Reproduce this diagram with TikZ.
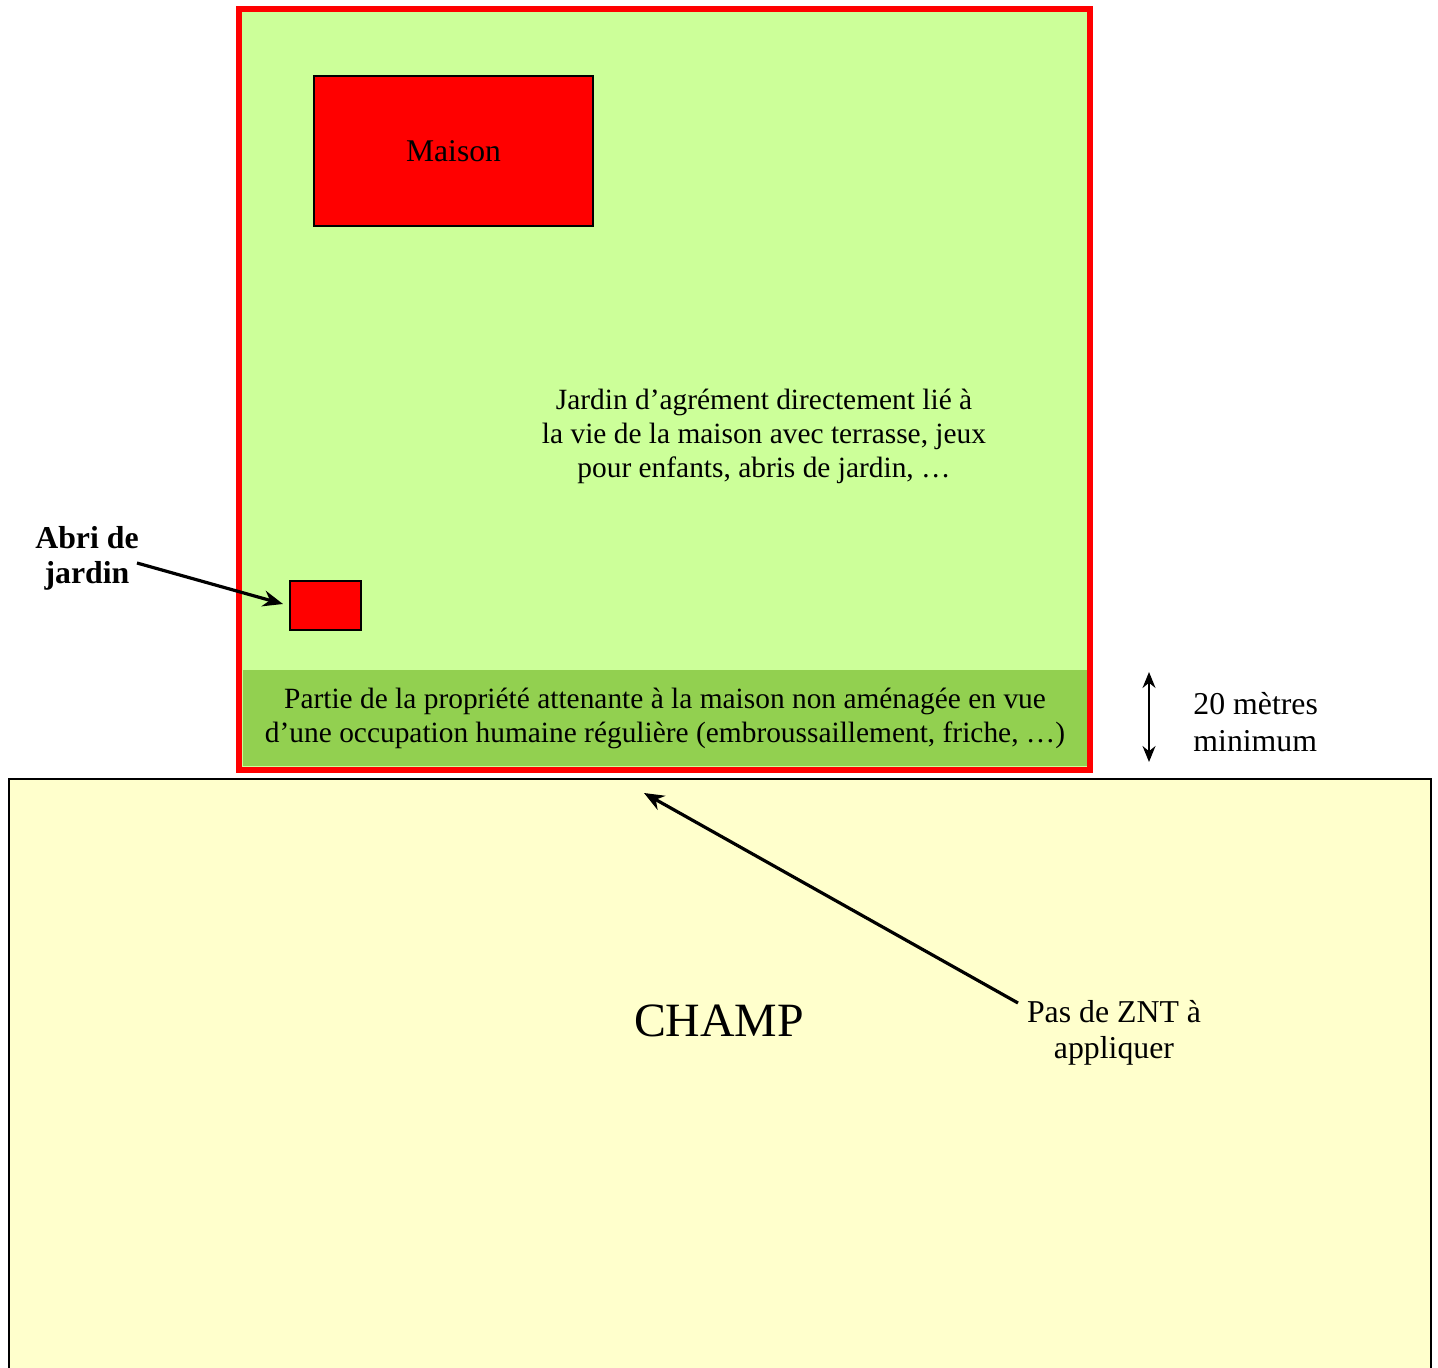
\documentclass[tikz,border=0pt]{standalone}
\usepackage{fontspec}
\setmainfont{Liberation Serif}
\usetikzlibrary{arrows.meta}
\definecolor{lightgreen}{HTML}{CCFF99}
\definecolor{darkgreen}{HTML}{92D050}
\definecolor{champ}{HTML}{FFFFCC}
\definecolor{redx}{HTML}{FF0000}
\tikzset{
  px/.style={x=0.5pt,y=-0.5pt},
  body/.style={font=\fontsize{14.7}{17}\selectfont, align=center, inner sep=0pt},
  big/.style={font=\fontsize{15.9}{18}\selectfont, align=center, inner sep=0pt},
  bldg/.style={fill=redx, draw=black, line width=1pt},
  ptr/.style={line width=1.6pt, -{Stealth[length=10pt,width=8pt]}},
  dim/.style={line width=0.8pt, {Stealth[length=8pt,width=6.5pt]}-{Stealth[length=8pt,width=6.5pt]}}
}
\begin{document}
\begin{tikzpicture}[px]
\useasboundingbox (0,0) rectangle (1438,1368);
\clip (0,0) rectangle (1438,1368);
% champ
\draw[fill=champ, draw=black, line width=1pt] (9,779) rectangle (1431,1400);
\node[font=\fontsize{23.9}{28}\selectfont, inner sep=0pt] (champtxt) at (719,1021) {CHAMP};
% property
\fill[lightgreen] (239,9) rectangle (1090,770);
\fill[darkgreen] (243,670) rectangle (1087,766);
\draw[redx, line width=3pt] (239,9) rectangle (1090,770);
\node[bldg, minimum width=139.5pt, minimum height=75pt, inner sep=0pt, anchor=north west, font=\fontsize{15.8}{18}\selectfont] (maison) at (313,75) {Maison};
\node[bldg, minimum width=35.5pt, minimum height=24.5pt, inner sep=0pt, anchor=north west] (abri) at (289,580) {};
\node[body] (jardin) at (764,436) {Jardin d’agrément directement lié à\\la vie de la maison avec terrasse, jeux\\pour enfants, abris de jardin, \dots};
\node[body] (partie) at (665,718) {Partie de la propriété attenante à la maison non aménagée en vue\\d’une occupation humaine régulière (embroussaillement, friche, \dots)};
% abri label
\node[big, font=\fontsize{15.9}{17.5}\selectfont\bfseries] (abrilbl) at (87,558) {Abri de\\jardin};
\coordinate (abristart) at (137,563);
\coordinate (abriend) at (283,604);
\draw[ptr] (abristart) -- (abriend);
% 20 m
\coordinate (dtop) at (1149,672);
\coordinate (dbot) at (1149,762);
\draw[dim] (dtop) -- (dbot);
\node[big, font=\fontsize{15.9}{18.5}\selectfont, align=left, anchor=west] (dimlbl) at (1193,722) {20 mètres\\minimum};
% ZNT
\node[big] (znt) at (1114,1033) {Pas de ZNT à\\appliquer};
\coordinate (zntstart) at (1018,1003);
\coordinate (zntend) at (644,793);
\draw[ptr] (zntstart) -- (zntend);
\end{tikzpicture}
\end{document}
